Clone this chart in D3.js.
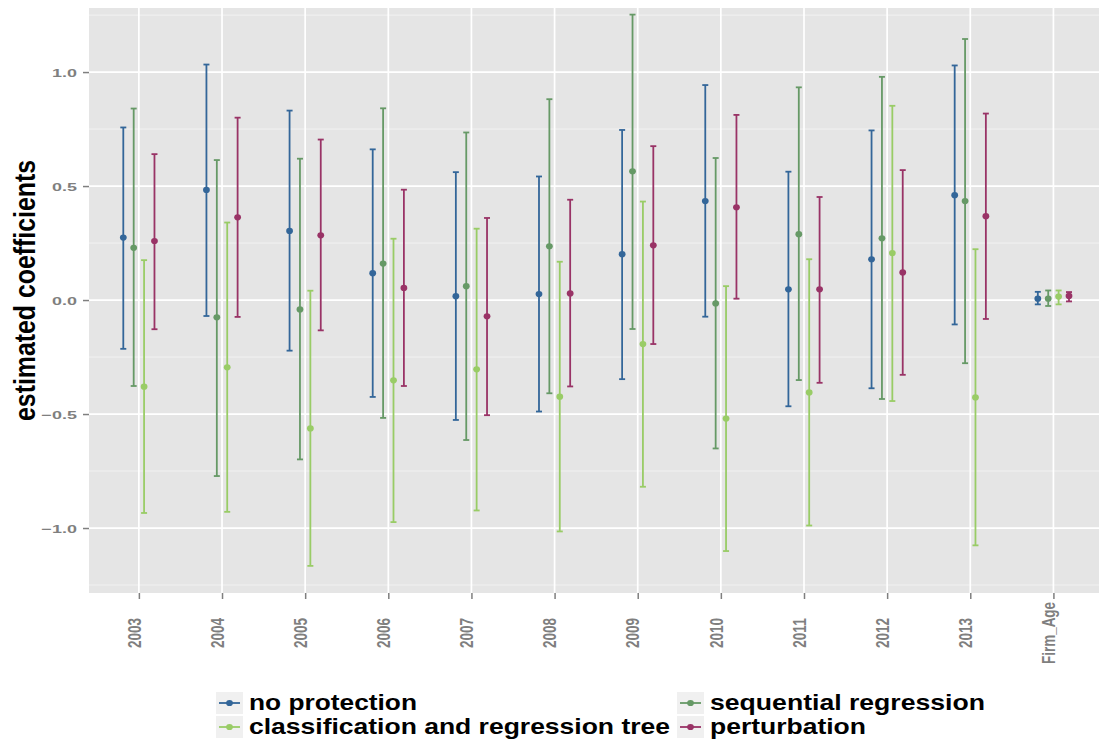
<!DOCTYPE html>
<html>
<head>
<meta charset="utf-8">
<script src="https://cdnjs.cloudflare.com/ajax/libs/d3/7.8.5/d3.min.js"></script>
<style>
  html, body { margin: 0; padding: 0; background: #ffffff; }
  svg { display: block; font-family: "Liberation Sans", Arial, sans-serif; }
</style>
</head>
<body>
<svg id="chart" width="1099" height="742"></svg>
<script>
// Regressors on the x axis
const categories = ["2003", "2004", "2005", "2006", "2007", "2008", "2009", "2010", "2011", "2012", "2013", "Firm_Age"];

// Methods, in dodge / legend order
const seriesNames = ["no protection", "sequential regression", "classification and regression tree", "perturbation"];
const seriesColors = ["#336699", "#669966", "#99cc66", "#993366"];

// no protection: estimate, lower bound, upper bound
const noProtEst  = [0.274, 0.483, 0.303, 0.118, 0.017, 0.026, 0.201, 0.434, 0.047, 0.179, 0.460, 0.006];
const noProtLow  = [-0.214, -0.070, -0.222, -0.425, -0.526, -0.489, -0.347, -0.073, -0.466, -0.387, -0.107, -0.019];
const noProtHigh = [0.757, 1.033, 0.831, 0.661, 0.561, 0.542, 0.746, 0.943, 0.563, 0.744, 1.029, 0.036];

// sequential regression
const seqRegEst  = [0.229, -0.076, -0.041, 0.160, 0.061, 0.236, 0.565, -0.015, 0.289, 0.271, 0.434, 0.006];
const seqRegLow  = [-0.377, -0.772, -0.699, -0.517, -0.614, -0.409, -0.127, -0.651, -0.351, -0.434, -0.277, -0.026];
const seqRegHigh = [0.840, 0.614, 0.620, 0.841, 0.735, 0.881, 1.252, 0.623, 0.933, 0.979, 1.145, 0.042];

// classification and regression tree
const cartEst  = [-0.380, -0.295, -0.563, -0.352, -0.304, -0.424, -0.193, -0.520, -0.405, 0.206, -0.427, 0.015];
const cartLow  = [-0.934, -0.929, -1.166, -0.974, -0.923, -1.015, -0.819, -1.101, -0.989, -0.443, -1.076, -0.019];
const cartHigh = [0.175, 0.340, 0.041, 0.269, 0.313, 0.168, 0.432, 0.061, 0.179, 0.852, 0.223, 0.042];

// perturbation
const pertEst  = [0.259, 0.363, 0.284, 0.053, -0.071, 0.029, 0.240, 0.407, 0.047, 0.121, 0.368, 0.018];
const pertLow  = [-0.128, -0.074, -0.133, -0.377, -0.505, -0.379, -0.193, 0.006, -0.363, -0.328, -0.083, -0.006];
const pertHigh = [0.640, 0.800, 0.704, 0.484, 0.360, 0.440, 0.675, 0.812, 0.452, 0.570, 0.818, 0.035];

const yTicks = [-1.0, -0.5, 0.0, 0.5, 1.0];
const yMinorTicks = [-1.25, -0.75, -0.25, 0.25, 0.75, 1.25];
const yTitle = "estimated coefficients";

const estimates = [noProtEst, seqRegEst, cartEst, pertEst];
const lowers = [noProtLow, seqRegLow, cartLow, pertLow];
const uppers = [noProtHigh, seqRegHigh, cartHigh, pertHigh];

// Flatten into rows for the marks
const rows = [];
seriesNames.forEach((s, si) => {
  categories.forEach((c, ci) => {
    rows.push({ series: si, cat: c, est: estimates[si][ci], lo: lowers[si][ci], hi: uppers[si][ci] });
  });
});

const svg = d3.select("#chart");
const panel = { left: 89, right: 1103.3, top: 8, bottom: 593 };

const x = d3.scalePoint().domain(categories).range([panel.left, panel.right]).padding(0.6);
const y = d3.scaleLinear().domain([-1.285, 1.281]).range([panel.bottom, panel.top]);
const step = x.step();
const dodge = i => (i - 1.5) * 0.125 * step;
const color = d3.scaleOrdinal().domain(d3.range(seriesNames.length)).range(seriesColors);

// Panel background
svg.append("rect")
  .attr("x", panel.left).attr("y", panel.top)
  .attr("width", panel.right - panel.left).attr("height", panel.bottom - panel.top)
  .attr("fill", "#e5e5e5");

const grid = svg.append("g");
grid.selectAll("line.minor").data(yMinorTicks).join("line")
  .attr("class", "minor")
  .attr("x1", panel.left).attr("x2", panel.right)
  .attr("y1", d => y(d)).attr("y2", d => y(d))
  .attr("stroke", "#f2f2f2").attr("stroke-width", 1);
grid.selectAll("line.majorY").data(yTicks).join("line")
  .attr("class", "majorY")
  .attr("x1", panel.left).attr("x2", panel.right)
  .attr("y1", d => y(d)).attr("y2", d => y(d))
  .attr("stroke", "#ffffff").attr("stroke-width", 1.7);
grid.selectAll("line.majorX").data(categories).join("line")
  .attr("class", "majorX")
  .attr("x1", d => x(d)).attr("x2", d => x(d))
  .attr("y1", panel.top).attr("y2", panel.bottom)
  .attr("stroke", "#ffffff").attr("stroke-width", 1.7);

// Error bars
const bars = svg.append("g");
const capHalf = 3;
bars.selectAll("line.stem").data(rows).join("line")
  .attr("x1", d => x(d.cat) + dodge(d.series)).attr("x2", d => x(d.cat) + dodge(d.series))
  .attr("y1", d => y(d.lo)).attr("y2", d => y(d.hi))
  .attr("stroke", d => color(d.series)).attr("stroke-width", 1.8);
bars.selectAll("line.capTop").data(rows).join("line")
  .attr("x1", d => x(d.cat) + dodge(d.series) - capHalf).attr("x2", d => x(d.cat) + dodge(d.series) + capHalf)
  .attr("y1", d => y(d.hi)).attr("y2", d => y(d.hi))
  .attr("stroke", d => color(d.series)).attr("stroke-width", 1.8);
bars.selectAll("line.capBot").data(rows).join("line")
  .attr("x1", d => x(d.cat) + dodge(d.series) - capHalf).attr("x2", d => x(d.cat) + dodge(d.series) + capHalf)
  .attr("y1", d => y(d.lo)).attr("y2", d => y(d.lo))
  .attr("stroke", d => color(d.series)).attr("stroke-width", 1.8);
bars.selectAll("ellipse").data(rows).join("ellipse")
  .attr("cx", d => x(d.cat) + dodge(d.series)).attr("cy", d => y(d.est))
  .attr("rx", 3.4).attr("ry", 3.1)
  .attr("fill", d => color(d.series));

// Y axis
const yAxis = svg.append("g")
  .attr("transform", `translate(${panel.left},0)`)
  .call(d3.axisLeft(y).tickValues(yTicks).tickSize(6).tickPadding(0)
    .tickFormat(d => d3.format(".1f")(d)));
yAxis.select(".domain").remove();
yAxis.selectAll(".tick line").attr("stroke", "#7f7f7f").attr("stroke-width", 1.5);
yAxis.selectAll(".tick text")
  .attr("x", -8).attr("dy", "0.36em")
  .attr("transform", "scale(1.52,1)")
  .attr("fill", "#7f7f7f").attr("font-size", 11.8).attr("font-weight", "bold")
  .attr("font-family", "'Liberation Sans', Arial, sans-serif");

// X axis
const xAxis = svg.append("g")
  .attr("transform", `translate(0,${panel.bottom})`)
  .call(d3.axisBottom(x).tickSize(6).tickPadding(0));
xAxis.select(".domain").remove();
xAxis.selectAll(".tick line").attr("stroke", "#7f7f7f").attr("stroke-width", 1.5);
xAxis.selectAll(".tick text")
  .attr("x", -40).attr("y", 0.9).attr("dy", 0)
  .attr("text-anchor", "middle")
  .attr("transform", "rotate(-90) scale(1,1.38)")
  .attr("fill", "#7f7f7f").attr("font-size", 13.5).attr("font-weight", "bold")
  .attr("font-family", "'Liberation Sans', Arial, sans-serif");

// Y axis title
svg.append("text")
  .attr("transform", "translate(35,290.5) rotate(-90)")
  .attr("text-anchor", "middle")
  .attr("font-size", 30).attr("font-weight", "bold")
  .attr("textLength", 261).attr("lengthAdjust", "spacingAndGlyphs")
  .attr("fill", "#000000")
  .text(yTitle);

// Legend: two columns, filled by row
const legendCols = [216, 677];
const legendRows = [692, 716];
const legendWidths = [168, 275, 421, 156];
const legend = svg.append("g");
seriesNames.forEach((name, i) => {
  const kx = legendCols[i % 2];
  const ky = legendRows[Math.floor(i / 2)];
  const g = legend.append("g");
  g.append("rect").attr("x", kx).attr("y", ky).attr("width", 27).attr("height", 22).attr("fill", "#f0f0f0");
  g.append("line").attr("x1", kx + 3).attr("x2", kx + 24).attr("y1", ky + 11).attr("y2", ky + 11)
    .attr("stroke", color(i)).attr("stroke-width", 1.8);
  g.append("ellipse").attr("cx", kx + 13.5).attr("cy", ky + 11).attr("rx", 3.4).attr("ry", 3.1).attr("fill", color(i));
  g.append("text")
    .attr("x", kx + 33).attr("y", ky + 18)
    .attr("font-size", 22).attr("font-weight", "bold").attr("fill", "#000000")
    .attr("textLength", legendWidths[i]).attr("lengthAdjust", "spacingAndGlyphs")
    .text(name);
});
</script>
</body>
</html>
